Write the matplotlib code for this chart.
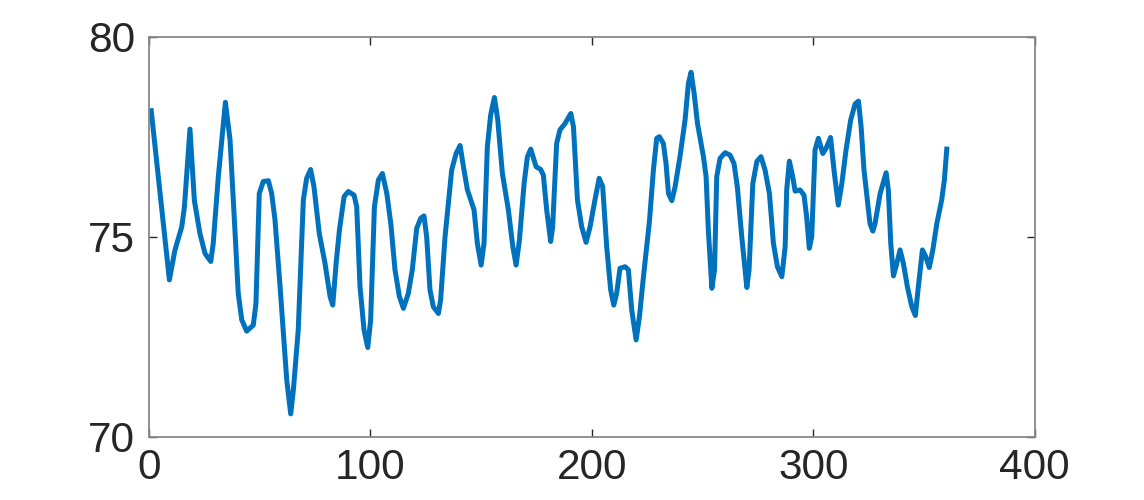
import numpy as np
import matplotlib
matplotlib.use('Agg')
import matplotlib.pyplot as plt

# Points (x, value)
day = [1, 9.2, 11.7, 14.8, 16, 18.5, 20.5, 23, 25.3, 27.9, 29, 31.3, 34.5, 36.6, 38.8,
       40.3, 41.9, 44.1, 47.1, 48.3, 49.8, 51.6, 53.9, 55.4, 56.9, 59.2, 62.2, 64, 65.2,
       67.4, 69.7, 71.2, 73, 74.5, 76.9, 79.5, 81.8, 83, 84.5, 86, 88.1, 90, 92.6, 93.8,
       95.3, 97.1, 98.8, 100.1, 101.8, 103.6, 105.4, 107.4, 109.2, 111.1, 113.1, 114.9,
       117.1, 118.9, 120.9, 122.7, 124.2, 125.4, 126.9, 128.4, 130.7, 131.7, 133.7, 136.7,
       138.7, 140.5, 142, 143.8, 146.8, 148.3, 150, 151.3, 152.8, 154.3, 156, 157.5, 159.6,
       162.3, 164.3, 165.8, 167.3, 169.4, 170.9, 172.4, 174.8, 176.9, 178.1, 179.6, 181.4,
       182.3, 184.1, 185.6, 187.9, 190.5, 191.7, 193.5, 195.4, 197.4, 199.2, 201.4, 203.3,
       204.9, 206.7, 208.5, 209.9, 211.2, 212.7, 215, 216.5, 218, 220, 221.5, 223.3, 226,
       227.8, 229.3, 230.5, 232.3, 233.5, 234.6, 236.1, 237.6, 239.8, 242.1, 243.6, 244.8,
       246.2, 247.7, 250.4, 251.6, 252.6, 254.2, 255.4, 256.4, 257.9, 260.2, 262.4, 264.2,
       265.7, 267.7, 270, 271, 272.7, 274.5, 276.4, 278.2, 280.2, 282, 283.8, 285.8, 287.3,
       288, 289.2, 290.7, 291.8, 294, 295.8, 297, 298.2, 299.3, 300.8, 302.3, 304.3, 305.8,
       307.8, 309.5, 311.3, 312.9, 314.8, 316.9, 318.9, 320.4, 321.6, 322.9, 324.4, 325.6,
       326.9, 327.9, 330.2, 332.9, 333.9, 335, 336.2, 337.7, 339.2, 340.7, 342.5, 344.5,
       346.1, 347.3, 349.3, 350.8, 352.4, 354, 355.8, 358, 359.2, 360.3]
value = [78.15, 73.92, 74.66, 75.25, 75.75, 77.69, 75.9, 75.08, 74.58, 74.38, 74.83, 76.5,
         78.36, 77.42, 75.17, 73.58, 72.92, 72.64, 72.79, 73.33, 76.08, 76.38, 76.4, 76.08,
         75.42, 73.75, 71.42, 70.57, 71.17, 72.67, 75.92, 76.46, 76.68, 76.25, 75.08, 74.33,
         73.5, 73.29, 74.33, 75.17, 76.0, 76.13, 76.04, 75.75, 73.75, 72.67, 72.23, 72.92,
         75.75, 76.42, 76.58, 76.08, 75.33, 74.17, 73.5, 73.21, 73.58, 74.17, 75.21, 75.46,
         75.52, 75.0, 73.67, 73.25, 73.08, 73.42, 75.0, 76.67, 77.08, 77.28, 76.75, 76.17,
         75.67, 74.83, 74.29, 74.83, 77.25, 78.04, 78.48, 77.92, 76.58, 75.67, 74.75, 74.29,
         74.92, 76.33, 77.0, 77.19, 76.75, 76.68, 76.54, 75.67, 74.88, 75.25, 77.33, 77.67,
         77.83, 78.08, 77.75, 75.92, 75.25, 74.86, 75.25, 75.92, 76.46, 76.25, 74.75, 73.67,
         73.29, 73.58, 74.21, 74.25, 74.17, 73.17, 72.42, 73.0, 74.0, 75.38, 76.67, 77.46,
         77.5, 77.33, 76.83, 76.08, 75.9, 76.25, 77.0, 77.92, 78.83, 79.11, 78.58, 77.83,
         77.0, 76.5, 75.17, 73.71, 74.17, 76.5, 76.96, 77.1, 77.04, 76.83, 76.25, 75.0,
         73.73, 74.17, 76.33, 76.88, 77.0, 76.67, 76.08, 74.83, 74.25, 74.0, 74.75, 76.17,
         76.89, 76.5, 76.14, 76.17, 76.04, 75.5, 74.71, 75.0, 77.17, 77.46, 77.08, 77.21,
         77.48, 76.6, 75.79, 76.33, 77.17, 77.92, 78.32, 78.39, 77.75, 76.67, 75.92, 75.33,
         75.14, 75.33, 76.08, 76.6, 76.17, 74.83, 74.02, 74.33, 74.67, 74.33, 73.75, 73.25,
         73.03, 73.67, 74.67, 74.5, 74.23, 74.67, 75.33, 75.92, 76.42, 77.19]

x_ticks = [0, 100, 200, 300, 400]
y_ticks = [70, 75, 80]

plt.rcParams['font.family'] = ['Liberation Sans', 'DejaVu Sans']

fig = plt.figure(figsize=(11.44, 5), dpi=100)
ax = fig.add_axes([149 / 1144, 1 - 436.7 / 500, 885.7 / 1144, 400 / 500])

ax.plot(day, value, color='#0072BD', linewidth=3.6, solid_joinstyle='round')

ax.set_xlim(0, 400)
ax.set_ylim(70, 80)
ax.set_xticks(x_ticks)
ax.set_yticks(y_ticks)

for s in ax.spines.values():
    s.set_color('#888888')
    s.set_linewidth(1.3)

ax.tick_params(direction='in', length=6, width=1, color='#262626',
               labelsize=30.5, labelcolor='#262626', top=True, right=True)
ax.tick_params(axis='x', pad=8)
ax.tick_params(axis='y', pad=10)

fig.savefig('out.png', dpi=100)
